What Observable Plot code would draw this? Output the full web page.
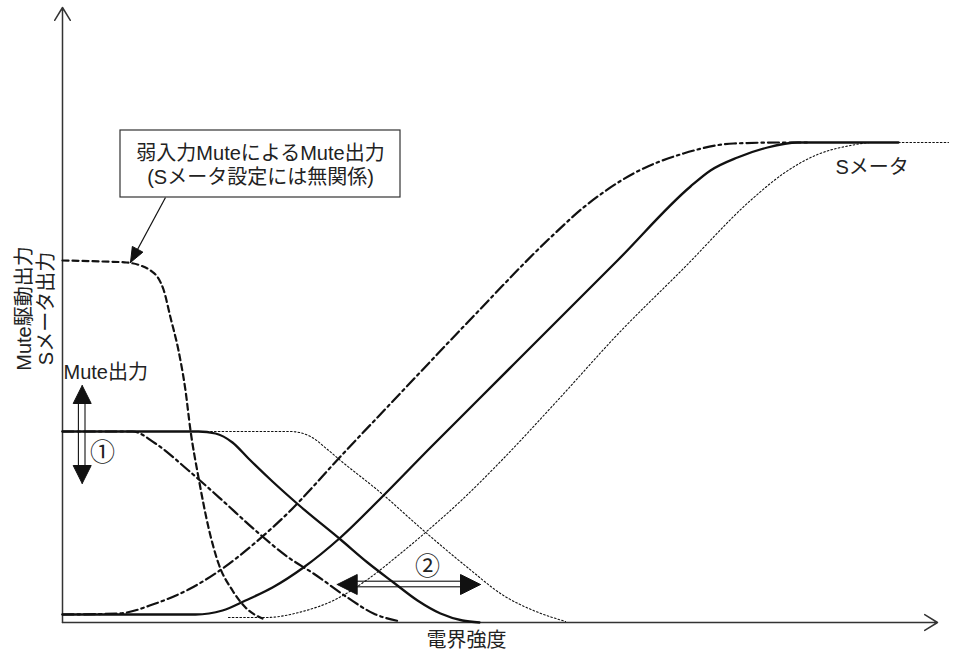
<!DOCTYPE html>
<html><head><meta charset="utf-8">
<script src="https://cdn.jsdelivr.net/npm/d3@7"></script>
<script src="https://cdn.jsdelivr.net/npm/@observablehq/plot@0.6"></script>
<style>body{margin:0;background:#fff;}</style>
</head><body><div id="chart"></div>
<script>
// Values (x: field strength, y: output level; arbitrary units)
const weakMute = [[0,362],[40,361],[64,360],[78,357],[88,352],[96,344],[101,333],[108,305],[116,272],[123,232],[128,192],[136,145],[146,95],[156,59],[170,32],[183,15],[200,4]];
const muteSolid = [[0,191],[136,191],[153,189],[170,180],[186,164],[210,141],[238,116],[278,83],[305,60],[331,40],[355,22],[378,9],[400,2],[417,0]];
const muteDashDot = [[0,191],[70,191],[93,179],[126,152],[160,122],[193,92],[226,65],[251,49],[285,25],[311,9],[338,1]];
const muteDotted = [[0,191],[228,191],[248,186],[265,173],[278,162],[318,130],[361,92],[405,55],[441,27],[471,12],[503,1]];
const smeterSolid = [[0,8],[133,8],[160,12],[183,22],[210,35],[241,55],[278,85],[318,124],[368,175],[415,222],[488,295],[555,362],[628,436],[648,452],[675,465],[705,475],[735,480],[836,480]];
const smeterDashDot = [[0,8],[56,9],[93,19],[126,33],[160,54],[193,80],[226,110],[278,166],[331,222],[405,300],[488,385],[521,415],[571,449],[621,469],[671,479],[721,480],[745,480]];
const smeterDotted = [[166,5],[203,5],[240,11],[273,23],[305,43],[338,69],[363,90],[403,126],[440,163],[495,222],[555,288],[621,354],[688,422],[721,449],[755,468],[788,477],[810,480],[886,480]];

// Axes extents
const xAxisEnd = 875, yAxisEnd = 615;

// Annotations
const calloutBox = [{x1: 58, x2: 338, y1: 425, y2: 492}];
const calloutText = ["弱入力MuteによるMute出力", "(Sメータ設定には無関係)"];
const calloutTextPos = [[198, 469], [198, 445]];
const calloutLeader = [[103, 425], [68, 360]];
const startLabels = [
  {text: "Mute出力", x: 1, y: 250},
  {text: "Sメータ", x: 773, y: 455}
];
const xTitle = {text: "電界強度", x: 404, y: -18};
const yTitle = "Mute駆動出力\nSメータ出力";
const yTitlePos = [-28, 314];
const levelArrow = {x: 19.7, top: 237, bottom: 139};      // ① range
const shiftArrow = {y: 38, left: 274.7, right: 418};      // ② range
const circled = [{t: "①", x: 40, y: 170}, {t: "②", x: 365, y: 56}];

const INK = "#111";
const FONT = "'Liberation Sans', Arial, 'Noto Sans CJK JP', sans-serif";

function tri(tip, dir, len, width) {
  const [tx, ty] = tip; const n = Math.hypot(dir[0], dir[1]);
  const dx = dir[0]/n, dy = dir[1]/n;
  const bx = tx - dx*len, by = ty - dy*len, px = -dy, py = dx;
  return [[tx,ty],[bx+px*width/2, by+py*width/2],[bx-px*width/2, by-py*width/2],[tx,ty]];
}
const heads = [
  tri([levelArrow.x, levelArrow.top], [0, 1], 18, 18),
  tri([levelArrow.x, levelArrow.bottom], [0, -1], 18, 18),
  tri([shiftArrow.left, shiftArrow.y], [-1, 0], 20, 20),
  tri([shiftArrow.right, shiftArrow.y], [1, 0], 20, 20),
  tri(calloutLeader[1], [calloutLeader[1][0]-calloutLeader[0][0], calloutLeader[1][1]-calloutLeader[0][1]], 15, 12)
].map((pts, i) => pts.map(p => ({x: p[0], y: p[1], g: i}))).flat();

const shafts = [
  {x1: levelArrow.x - 3.3, x2: levelArrow.x + 3.3, y1: levelArrow.bottom + 17, y2: levelArrow.top - 17},
  {x1: shiftArrow.left + 19, x2: shiftArrow.right - 19, y1: shiftArrow.y - 2.8, y2: shiftArrow.y + 2.8}
];

const pts = a => a.map(([x, y]) => ({x, y}));

const chart = Plot.plot({
  width: 960, height: 651, margin: 0,
  x: {domain: [-62, 898], axis: null},
  y: {domain: [-29, 622], axis: null},
  style: {fontFamily: FONT, background: "#fff"},
  marks: [
    Plot.arrow([0], {x1: 0, y1: 0, x2: 0, y2: yAxisEnd, stroke: "#333", strokeWidth: 1.5, headLength: 15, headAngle: 63}),
    Plot.arrow([0], {x1: 0, y1: 0, x2: xAxisEnd, y2: 0, stroke: "#333", strokeWidth: 1.5, headLength: 15, headAngle: 63}),
    Plot.line(pts(muteDotted), {x: "x", y: "y", stroke: INK, strokeWidth: 1.1, strokeDasharray: "1.6,2.2", curve: "monotone-x"}),
    Plot.line(pts(smeterDotted), {x: "x", y: "y", stroke: INK, strokeWidth: 1.1, strokeDasharray: "1.6,2.2", curve: "monotone-x"}),
    Plot.line(pts(muteDashDot), {x: "x", y: "y", stroke: INK, strokeWidth: 2.2, strokeDasharray: "11,4,2.5,4", curve: "monotone-x"}),
    Plot.line(pts(smeterDashDot), {x: "x", y: "y", stroke: INK, strokeWidth: 2.2, strokeDasharray: "11,4,2.5,4", curve: "monotone-x"}),
    Plot.line(pts(weakMute), {x: "x", y: "y", stroke: INK, strokeWidth: 2.2, strokeDasharray: "6,4", curve: "monotone-x"}),
    Plot.line(pts(muteSolid), {x: "x", y: "y", stroke: INK, strokeWidth: 2.3, curve: "monotone-x"}),
    Plot.line(pts(smeterSolid), {x: "x", y: "y", stroke: INK, strokeWidth: 2.3, curve: "monotone-x"}),
    // callout
    Plot.link([calloutLeader], {x1: d => d[0][0], y1: d => d[0][1], x2: d => d[1][0], y2: d => d[1][1], stroke: INK, strokeWidth: 1.2}),
    Plot.rect(calloutBox, {x1: "x1", x2: "x2", y1: "y1", y2: "y2", fill: "#fff", stroke: "#333", strokeWidth: 1.2}),
    Plot.text(calloutText, {x: (d, i) => calloutTextPos[i][0], y: (d, i) => calloutTextPos[i][1], text: d => d, fontSize: 20, fill: "#222"}),
    // range arrows
    Plot.rect(shafts, {x1: "x1", x2: "x2", y1: "y1", y2: "y2", fill: "none", stroke: INK, strokeWidth: 1.1}),
    Plot.line(heads, {x: "x", y: "y", z: "g", fill: INK, stroke: INK, strokeWidth: 1, curve: "linear"}),
    Plot.text(circled, {x: "x", y: "y", text: "t", fontSize: 25, fill: "#222", fontFamily: "'Noto Sans CJK JP', 'DejaVu Sans', sans-serif"}),
    // labels
    Plot.text(startLabels, {x: "x", y: "y", text: "text", textAnchor: "start", fontSize: 20, fill: "#222"}),
    Plot.text([xTitle], {x: "x", y: "y", text: "text", fontSize: 20, fill: "#222"}),
    Plot.text([yTitle], {x: yTitlePos[0], y: yTitlePos[1], text: d => d, rotate: -90, fontSize: 20, lineHeight: 1.1, fill: "#222"})
  ]
});
document.getElementById("chart").appendChild(chart);
</script>
</body></html>
